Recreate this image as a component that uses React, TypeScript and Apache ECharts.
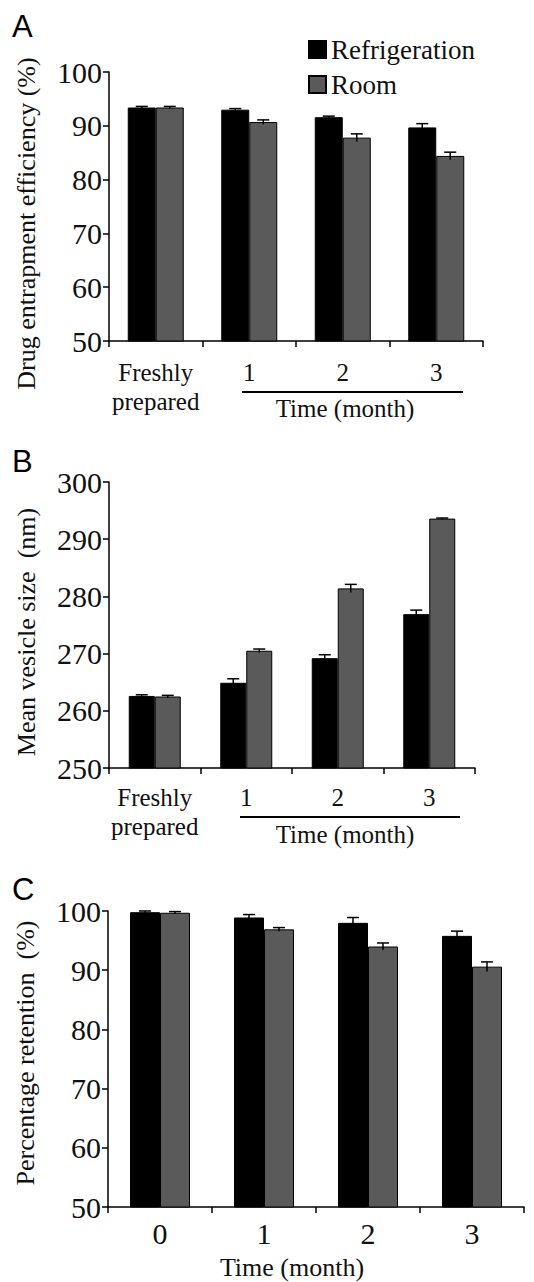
import React, { useEffect, useRef } from "react";
import * as echarts from "echarts";

const catsAB = ["Freshly\nprepared", "1", "2", "3"];
const catsC = ["0", "1", "2", "3"];
const seriesNames = ["Refrigeration", "Room"];

const refA = [93.4, 93.0, 91.6, 89.7];
const roomA = [93.4, 90.7, 87.8, 84.4];
const errRefA = [0.2, 0.2, 0.2, 0.7];
const errRoomA = [0.2, 0.4, 0.7, 0.7];

const refB = [262.6, 264.9, 269.2, 276.9];
const roomB = [262.5, 270.5, 281.4, 293.6];
const errRefB = [0.2, 0.7, 0.6, 0.7];
const errRoomB = [0.2, 0.3, 0.7, 0.1];

const refC = [99.8, 98.9, 98.0, 95.8];
const roomC = [99.7, 96.9, 94.0, 90.6];
const errRefC = [0.2, 0.5, 0.9, 0.8];
const errRoomC = [0.2, 0.3, 0.6, 0.8];

const SERIF = "Liberation Serif";
const SANS = "Liberation Sans";
const BLACK = "#000000";
const GRAY = "#5a5a5a";

export default function App() {
  const ref = useRef<HTMLDivElement>(null);
  useEffect(() => {
    if (!ref.current) return;
    const chart = echarts.init(ref.current, null, { renderer: "svg" });

    const grids = [
      { left: 109, top: 72, width: 374, height: 269 },
      { left: 109, top: 482, width: 366, height: 286 },
      { left: 108, top: 911, width: 416, height: 296 },
    ];
    const barW = [28, 26, 30];
    const panels = [
      { cats: catsAB, ref: refA, room: roomA, eRef: errRefA, eRoom: errRoomA, min: 50, max: 100, name: "Drug entrapment efficiency (%)", margin: 17, namePad: [0, 34, 0, 0] },
      { cats: catsAB, ref: refB, room: roomB, eRef: errRefB, eRoom: errRoomB, min: 250, max: 300, name: "Mean vesicle size  (nm)", margin: 15, namePad: [0, 14, 0, 0] },
      { cats: catsC, ref: refC, room: roomC, eRef: errRefC, eRoom: errRoomC, min: 50, max: 100, name: "Percentage retention  (%)", margin: 12, namePad: [0, 0, 0, 12] },
    ];

    const xAxis: any[] = [];
    const yAxis: any[] = [];
    const series: any[] = [];

    panels.forEach((p, i) => {
      xAxis.push({
        type: "category",
        gridIndex: i,
        data: p.cats,
        axisLine: { lineStyle: { color: BLACK, width: 1.5 } },
        axisTick: { show: true, length: 6, lineStyle: { color: BLACK, width: 1.5 } },
        axisLabel: {
          interval: 0,
          margin: p.margin,
          fontFamily: SERIF,
          fontSize: i === 2 ? 30 : 25,
          lineHeight: 29,
          color: "#111",
        },
      });
      yAxis.push({
        type: "value",
        gridIndex: i,
        min: p.min,
        max: p.max,
        interval: 10,
        name: p.name,
        nameLocation: "middle",
        nameGap: 70,
        nameTextStyle: { fontFamily: SERIF, fontSize: 26, color: "#111", padding: p.namePad },
        splitLine: { show: false },
        axisLine: { show: true, lineStyle: { color: BLACK, width: 1.5 } },
        axisTick: { show: true, length: 6, lineStyle: { color: BLACK, width: 1.5 } },
        axisLabel: { margin: 7, fontFamily: SERIF, fontSize: 30, color: "#111" },
      });
      const bw = barW[i];
      series.push({
        type: "bar",
        name: seriesNames[0],
        xAxisIndex: i,
        yAxisIndex: i,
        data: p.ref,
        barWidth: bw,
        barGap: "0%",
        itemStyle: { color: BLACK, borderColor: BLACK, borderWidth: 1 },
      });
      series.push({
        type: "bar",
        name: seriesNames[1],
        xAxisIndex: i,
        yAxisIndex: i,
        data: p.room,
        barWidth: bw,
        barGap: "0%",
        itemStyle: { color: GRAY, borderColor: BLACK, borderWidth: 1 },
      });
      [
        { vals: p.ref, errs: p.eRef, side: -1 },
        { vals: p.room, errs: p.eRoom, side: 1 },
      ].forEach((s) => {
        series.push({
          type: "custom",
          xAxisIndex: i,
          yAxisIndex: i,
          z: 5,
          encode: { x: 0, y: 1 },
          data: s.vals.map((v, k) => [k, v, s.errs[k]]),
          renderItem: (params: any, api: any) => {
            const x = api.value(0);
            const y = api.value(1);
            const e = api.value(2);
            const top = api.coord([x, y + e]);
            const bot = api.coord([x, y - e]);
            const cx = top[0] + (s.side * bw) / 2;
            const cap = 6;
            const st = { stroke: BLACK, lineWidth: 1.5 };
            return {
              type: "group",
              children: [
                { type: "line", shape: { x1: cx, y1: top[1], x2: cx, y2: bot[1] }, style: st },
                { type: "line", shape: { x1: cx - cap, y1: top[1], x2: cx + cap, y2: top[1] }, style: st },
              ],
            };
          },
        });
      });
    });

    const graphic: any[] = [
      { type: "text", left: 12, top: 11, style: { text: "A", fontFamily: SANS, fontSize: 31, fill: "#000" } },
      { type: "text", left: 12, top: 446, style: { text: "B", fontFamily: SANS, fontSize: 31, fill: "#000" } },
      { type: "text", left: 12, top: 874, style: { text: "C", fontFamily: SANS, fontSize: 31, fill: "#000" } },
      { type: "line", shape: { x1: 242, y1: 392, x2: 463, y2: 392 }, style: { stroke: BLACK, lineWidth: 2 } },
      { type: "text", x: 345, y: 408, style: { text: "Time (month)", fontFamily: SERIF, fontSize: 25, fill: "#111", align: "center", verticalAlign: "middle" } },
      { type: "line", shape: { x1: 240, y1: 817, x2: 460, y2: 817 }, style: { stroke: BLACK, lineWidth: 2 } },
      { type: "text", x: 345, y: 834, style: { text: "Time (month)", fontFamily: SERIF, fontSize: 25, fill: "#111", align: "center", verticalAlign: "middle" } },
      { type: "text", x: 292, y: 1267, style: { text: "Time (month)", fontFamily: SERIF, fontSize: 26, fill: "#111", align: "center", verticalAlign: "middle" } },
    ];

    chart.setOption({
      animation: false,
      backgroundColor: "#ffffff",
      grid: grids,
      xAxis,
      yAxis,
      series,
      legend: {
        data: seriesNames,
        orient: "vertical",
        left: 308,
        top: 36,
        padding: 0,
        itemWidth: 17,
        itemHeight: 17,
        itemGap: 8,
        icon: "rect",
        textStyle: { fontFamily: SERIF, fontSize: 27, color: "#111", lineHeight: 27 },
      },
      graphic,
    });
    return () => chart.dispose();
  }, []);
  return (
    <div
      ref={ref}
      style={{ position: "absolute", left: 0, top: 0, width: 534, height: 1282, background: "#fff" }}
    />
  );
}
